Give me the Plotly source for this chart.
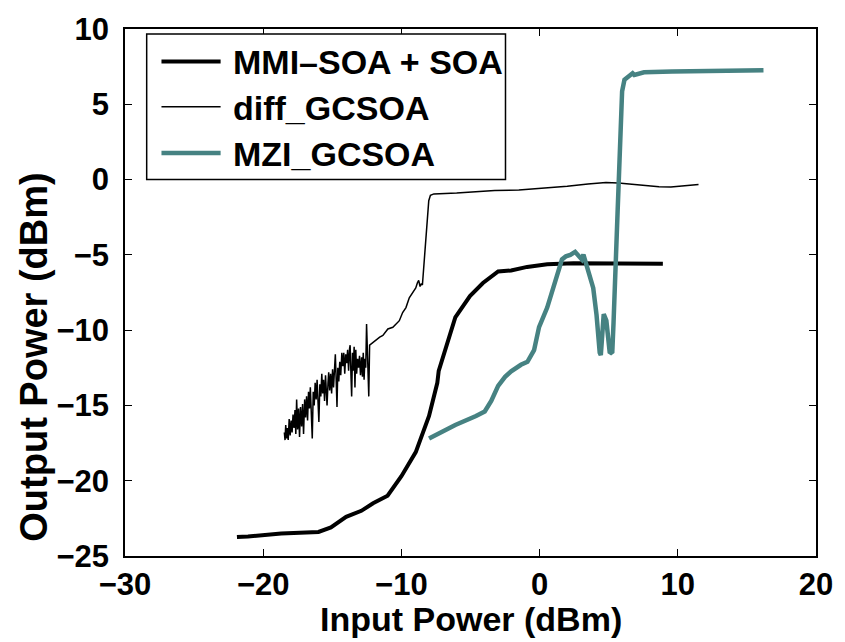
import plotly.graph_objects as go

# ---------------- data ----------------
mmi_x = [-21.9, -21.1, -18.7, -16.0, -15.1, -14.0, -12.9, -12.05, -11.0, -10.0, -8.96, -8.0, -7.4,
         -7.3, -6.1, -5.04, -4.1, -3.0, -2.06, -0.9, 0.55, 2.45, 8.92]
mmi_y = [-23.74, -23.7, -23.5, -23.4, -23.1, -22.4, -22.0, -21.5, -21.0, -19.7, -18.1, -15.7, -13.5,
         -12.7, -9.15, -7.74, -6.87, -6.1, -6.04, -5.8, -5.63, -5.56, -5.59]

diff_x = [-18.47, -18.42, -18.37, -18.31, -18.25, -18.19, -18.12, -18.05, -17.98, -17.91,
          -17.84, -17.77, -17.70, -17.64, -17.58, -17.51, -17.44, -17.37, -17.30, -17.22,
          -17.15, -17.08, -17.00, -16.93, -16.86, -16.79, -16.72, -16.65, -16.59, -16.52,
          -16.45, -16.38, -16.31, -16.24, -16.17, -16.10, -16.03, -15.97, -15.90, -15.83,
          -15.76, -15.70, -15.63, -15.56, -15.49, -15.42, -15.38, -15.31, -15.26, -15.19,
          -15.12, -15.05, -14.98, -14.91, -14.84, -14.78, -14.72, -14.66, -14.60, -14.53,
          -14.46, -14.39, -14.31, -14.24, -14.17, -14.10, -14.03, -13.96, -13.89, -13.82,
          -13.75, -13.71, -13.65, -13.60, -13.54, -13.48, -13.42, -13.36, -13.30, -13.24,
          -13.17, -13.10, -13.03, -12.96, -12.88, -12.82, -12.76, -12.70, -12.64, -12.58,
          -12.52, -12.46, -12.41, -12.36, -12.30, -12.17,
          -11.81, -11.57, -11.34, -10.98, -10.62, -10.39, -10.15, -9.91, -9.67, -9.43,
          -9.2, -8.96, -8.84, -8.75, -8.65, -8.55, -8.48, -8.42, -8.35, -8.24, -8.12,
          -8.02, -7.9, -7.65, -6.0, -4.5, -3.25, -1.5, 0.3, 2.0, 3.5, 4.8, 5.7, 6.3,
          7.2, 8.0, 8.64, 9.5, 10.3, 11.0, 11.5]
diff_y = [-16.8, -17.3, -16.3, -17.2, -16.5, -17.3, -15.9, -17.0, -16.0, -16.8,
          -15.6, -16.5, -15.3, -16.9, -14.6, -16.6, -15.2, -17.1, -15.1, -16.4,
          -14.9, -16.9, -14.6, -15.8, -14.4, -16.0, -14.1, -15.2, -13.8, -15.4,
          -17.2, -14.1, -15.0, -13.5, -14.6, -13.3, -14.9, -16.1, -13.6, -14.4,
          -12.9, -14.2, -13.3, -14.7, -13.0, -14.1, -15.0, -13.5, -12.8, -14.0,
          -12.9, -14.2, -12.6, -13.8, -12.3, -11.6, -13.3, -15.1, -12.5, -13.4,
          -12.1, -13.0, -11.5, -12.4, -11.5, -12.9, -11.6, -12.2, -11.3, -12.7,
          -11.2, -11.0, -13.0, -14.4, -11.5, -12.7, -11.1, -13.8, -11.3, -12.9,
          -11.9, -12.5, -11.7, -13.0, -11.8, -13.1, -11.5, -13.3, -11.9, -12.5,
          -9.6, -11.6, -12.3, -14.4, -11.0, -10.9,
          -10.68, -10.46, -10.35, -9.92, -9.81, -9.59, -9.37, -8.83, -8.5, -7.85,
          -7.52, -7.2, -6.85, -6.7, -7.1, -6.9, -7.0, -6.3, -5.1, -3.9, -2.5,
          -1.4, -1.05, -0.95, -0.9, -0.8, -0.72, -0.7, -0.58, -0.45, -0.3, -0.2, -0.22, -0.28,
          -0.38, -0.45, -0.48, -0.5, -0.42, -0.36, -0.32]

mzi_x = [-8.0, -6.1, -4.6, -3.97, -3.5, -3.0, -2.5, -2.06, -1.35, -0.88, -0.4, -0.04, 0.55,
         1.03, 1.26, 1.62, 1.9, 2.22, 2.57, 2.92, 3.05, 3.17, 3.4, 3.88, 4.12, 4.23, 4.35,
         4.43, 4.52, 4.64, 4.83, 5.0, 5.07, 5.17, 5.26, 5.35, 5.42, 5.55, 5.65, 5.72, 5.85,
         5.97, 6.14, 6.5, 6.73, 6.85, 7.56, 9.59, 13.15, 16.2]
mzi_y = [-17.2, -16.3, -15.7, -15.4, -14.7, -13.7, -13.1, -12.74, -12.3, -12.1, -11.33, -9.8, -8.5,
         -7.09, -6.5, -5.3, -5.1, -5.0, -4.8, -5.13, -5.3, -4.98, -5.67, -7.2, -9.0, -10.8, -11.5,
         -11.66, -10.5, -8.94, -9.37, -10.8, -11.44, -11.5, -11.44, -9.5, -7.2, -4.58, -2.0, -0.3, 3.25,
         5.87, 6.63, 6.95, 7.06, 6.95, 7.13, 7.17, 7.21, 7.26]

series_names = ["MMI\u2013SOA + SOA", "diff_GCSOA", "MZI_GCSOA"]
series_colors = ["#000000", "#000000", "#468282"]
series_widths = [4, 1.5, 4.5]

x_ticks = [-30, -20, -10, 0, 10, 20]
y_ticks = [-25, -20, -15, -10, -5, 0, 5, 10]

FONT = "Liberation Sans, Arial, sans-serif"

fig = go.Figure()
for xs, ys, name, col, w in zip([mmi_x, diff_x, mzi_x], [mmi_y, diff_y, mzi_y],
                                series_names, series_colors, series_widths):
    fig.add_trace(go.Scatter(x=xs, y=ys, mode="lines", name=name,
                             line=dict(color=col, width=w), showlegend=False))

W, H = 845, 642
L, R, T, B = 125, 826, 20, 556
pw, ph = R - L, B - T


def px(xp):
    return (xp - L) / pw


def py(yp):
    return (B - yp) / ph


# manual legend (box, line samples, labels)
shapes = [dict(type="rect", xref="paper", yref="paper", x0=px(147), x1=px(511), y0=py(173), y1=py(25),
               line=dict(color="black", width=1.5), fillcolor="white", layer="above")]
annotations = []
rows = [53, 99, 146]
for i, (name, col, w) in enumerate(zip(series_names, series_colors, series_widths)):
    shapes.append(dict(type="line", xref="paper", yref="paper", x0=px(162), x1=px(222),
                       y0=py(rows[i]), y1=py(rows[i]), line=dict(color=col, width=w), layer="above"))
    annotations.append(dict(text=name, xref="paper", yref="paper", x=px(233), y=py(rows[i] + 1),
                            xanchor="left", yanchor="middle", showarrow=False,
                            font=dict(family=FONT, size=34, color="black", weight="bold")))

# axis titles
annotations.append(dict(text="Input Power (dBm)", xref="paper", yref="paper", x=px(476), y=py(620),
                        xanchor="center", yanchor="middle", showarrow=False,
                        font=dict(family=FONT, size=34, color="black", weight="bold")))
annotations.append(dict(text="Output Power (dBm)", xref="paper", yref="paper", x=px(33), y=py(354),
                        xanchor="center", yanchor="middle", showarrow=False, textangle=-90,
                        font=dict(family=FONT, size=38, color="black", weight="bold")))

axis_common = dict(showgrid=False, zeroline=False, showline=True, linecolor="black", linewidth=1.5,
                   mirror="ticks", ticks="inside", ticklen=7, tickwidth=1.2, tickcolor="black",
                   tickfont=dict(family=FONT, size=31, color="black", weight="bold"))

fig.update_layout(
    width=W, height=H,
    margin=dict(l=L, r=W - R, t=T, b=H - B),
    paper_bgcolor="white", plot_bgcolor="white",
    xaxis=dict(range=[-30, 20], tickvals=x_ticks, ticklabelstandoff=0, **axis_common),
    yaxis=dict(range=[-25, 10], tickvals=y_ticks, ticklabelstandoff=8, **axis_common),
    shapes=shapes, annotations=annotations, showlegend=False,
)

fig.write_html("out.html")
